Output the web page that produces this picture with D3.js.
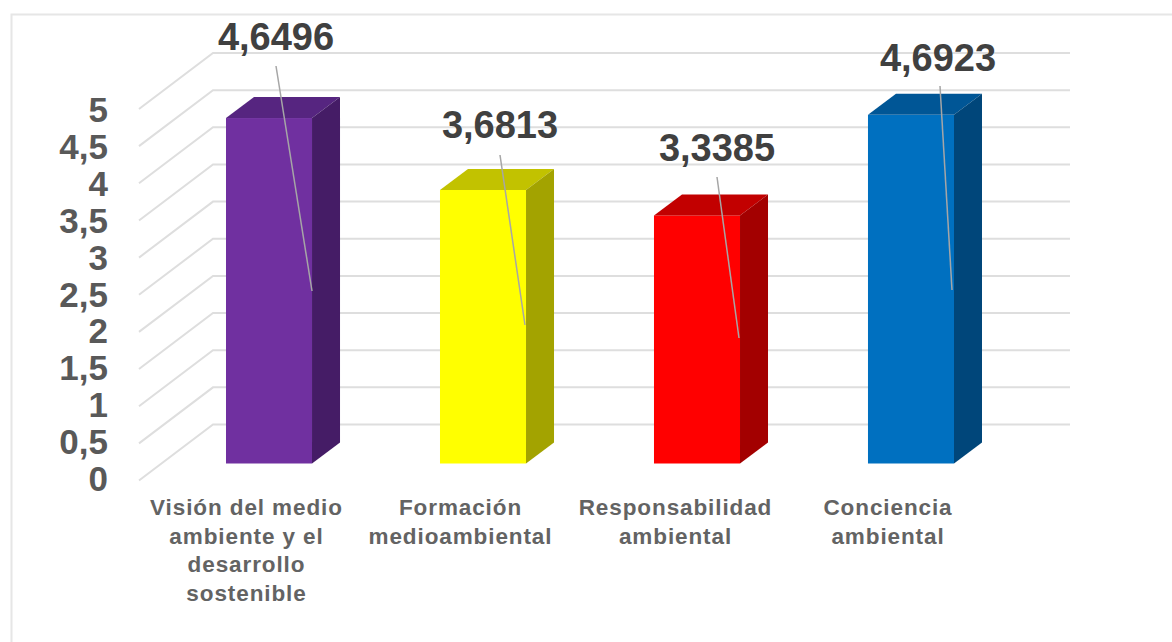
<!DOCTYPE html>
<html>
<head>
<meta charset="utf-8">
<script src="https://cdn.jsdelivr.net/npm/d3@7/dist/d3.min.js"></script>
<style>
  html, body { margin: 0; padding: 0; background: #fff; }
  svg { display: block; }
  text { font-family: "Liberation Sans", Arial, sans-serif; font-weight: bold; }
</style>
</head>
<body>
<svg id="chart" width="1172" height="642"></svg>
<script>
// Chart values
const categories = [
  ["Visión del medio", "ambiente y el", "desarrollo", "sostenible"],
  ["Formación", "medioambiental"],
  ["Responsabilidad", "ambiental"],
  ["Conciencia", "ambiental"]
];
const values = [4.6496, 3.6813, 3.3385, 4.6923];
const valueLabels = ["4,6496", "3,6813", "3,3385", "4,6923"];
const yTicks = [0, 0.5, 1, 1.5, 2, 2.5, 3, 3.5, 4, 4.5, 5];
const yTickLabels = ["0", "0,5", "1", "1,5", "2", "2,5", "3", "3,5", "4", "4,5", "5"];

// Face colours of each bar
const frontColors = ["#7030a0", "#ffff00", "#ff0000", "#0070c0"];
const topColors = ["#562580", "#c2c200", "#c20000", "#005696"];
const sideColors = ["#451c66", "#a3a300", "#a30000", "#00467a"];

// Oblique projection: the back wall is offset from the front plane
const depthBar = { dx: 28, dy: -21 };
const depthWall = { dx: 74, dy: -57 };

const svg = d3.select("#chart");

const y = d3.scaleLinear().domain([0, 5]).range([463.5, 92]);
const x = d3.scaleBand().domain(d3.range(categories.length))
  .range([161.8, 1018.2]).paddingInner(0.598).paddingOuter(0.3);
// Axis labels sit on a slightly tighter ladder than the bars
const yLabel = d3.scaleLinear().domain([0, 5]).range([491, 122]);

// Outer frame (left and top edges)
svg.append("path")
  .attr("d", d3.line()([[11.5, 642], [11.5, 14.5], [1172, 14.5]]))
  .attr("fill", "none").attr("stroke", "#e6e6e6").attr("stroke-width", 2);

// Grid: floor/wall diagonal plus back-wall line for every tick
const wallY = v => y(v) - 39;
const grid = svg.append("g").attr("fill", "none").attr("stroke", "#dedede").attr("stroke-width", 2);
grid.selectAll("path").data(yTicks).join("path")
  .attr("d", v => d3.line()([
    [139, wallY(v) - depthWall.dy - 1],
    [139 + depthWall.dx, wallY(v)],
    [1070, wallY(v)]
  ]));

// Value-axis labels
svg.append("g").selectAll("text").data(yTicks).join("text")
  .attr("x", 108).attr("y", v => yLabel(v))
  .attr("text-anchor", "end").attr("font-size", 35).attr("fill", "#595959")
  .text((v, i) => yTickLabels[i]);

// Bars: front, top and side faces
const bars = svg.append("g").selectAll("g").data(values).join("g");
bars.append("rect")
  .attr("x", (d, i) => x(i)).attr("y", d => y(d))
  .attr("width", x.bandwidth()).attr("height", d => y(0) - y(d))
  .attr("fill", (d, i) => frontColors[i]);
bars.append("path")
  .attr("fill", (d, i) => topColors[i])
  .attr("d", (d, i) => {
    const l = x(i), r = l + x.bandwidth(), t = y(d);
    return d3.line()([[l, t], [l + depthBar.dx, t + depthBar.dy], [r + depthBar.dx, t + depthBar.dy], [r, t]]) + "Z";
  });
bars.append("path")
  .attr("fill", (d, i) => sideColors[i])
  .attr("d", (d, i) => {
    const r = x(i) + x.bandwidth(), t = y(d), b = y(0);
    return d3.line()([[r, t], [r + depthBar.dx, t + depthBar.dy], [r + depthBar.dx, b + depthBar.dy], [r, b]]) + "Z";
  });

// Leader lines from the value labels into the bars
const labelPos = [
  { x: 276, y: 50, lx: 276, ly: 66, ex: 312, ey: 291 },
  { x: 500, y: 138, lx: 500, ly: 155, ex: 525, ey: 325 },
  { x: 717, y: 161, lx: 717, ly: 177, ex: 739, ey: 338 },
  { x: 938, y: 71, lx: 940, ly: 86, ex: 952, ey: 290 }
];
svg.append("g").selectAll("line").data(labelPos).join("line")
  .attr("x1", d => d.lx).attr("y1", d => d.ly)
  .attr("x2", d => d.ex).attr("y2", d => d.ey)
  .attr("stroke", "#a6a6a6").attr("stroke-width", 1.5);

svg.append("g").selectAll("text").data(labelPos).join("text")
  .attr("x", d => d.x).attr("y", d => d.y)
  .attr("text-anchor", "middle").attr("font-size", 38).attr("fill", "#404040")
  .text((d, i) => valueLabels[i]);

// Category labels
const catCenters = [246.5, 460.5, 675.5, 888];
const cat = svg.append("g").selectAll("text").data(categories).join("text")
  .attr("text-anchor", "middle").attr("font-size", 22.5).attr("fill", "#636363")
  .attr("letter-spacing", 0.9);
cat.selectAll("tspan").data((d, i) => d.map((line, k) => ({ line, k, cx: catCenters[i] }))).join("tspan")
  .attr("x", d => d.cx).attr("y", d => 515 + d.k * 28.5)
  .text(d => d.line);
</script>
</body>
</html>
